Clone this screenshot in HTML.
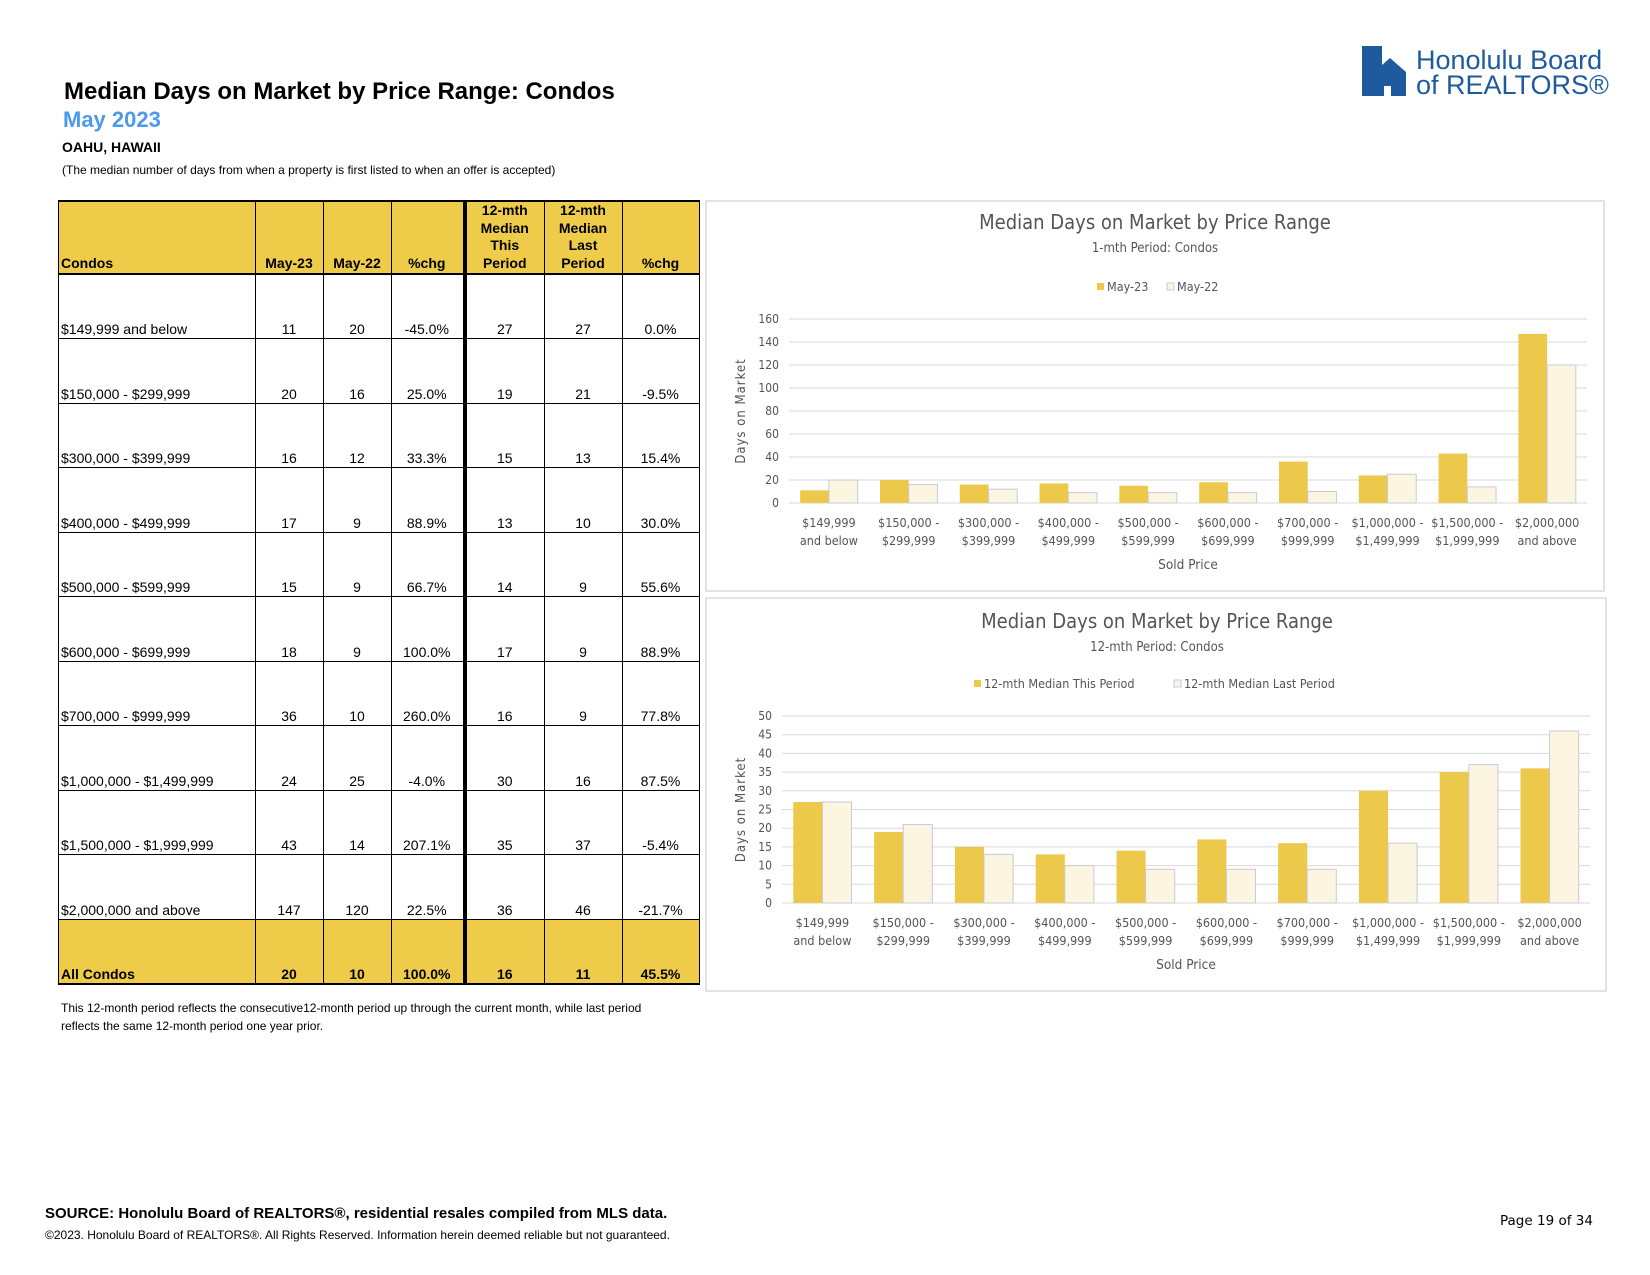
<!DOCTYPE html>
<html><head><meta charset="utf-8">
<style>
body{margin:0;width:1650px;height:1275px;background:#fff;position:relative;font-family:"Liberation Sans",Arial,sans-serif;color:#000;overflow:hidden}
.abs{position:absolute;white-space:nowrap}
table{position:absolute;left:58px;top:200px;border-collapse:collapse;font-size:14px}
td{border:1px solid #000;padding:0 3px 1px 2px;vertical-align:bottom;text-align:center;height:64.5px;box-sizing:border-box}
td:first-child{text-align:left}
tr.hd td{background:#eecc4a;font-weight:bold;height:70px;line-height:17.5px;border-top:2px solid #000;border-bottom:2px solid #000}
tr.tot td{background:#eecc4a;font-weight:bold;height:65px;border-bottom:2px solid #000}
td.tk{border-right:4px solid #000}
.chart{position:absolute;border:2px solid #e3e3e3;background:#fff}
</style></head><body>
<div class="abs" style="left:64px;top:78px;font-size:24px;font-weight:bold">Median Days on Market by Price Range: Condos</div>
<div class="abs" style="left:63px;top:107px;font-size:22px;font-weight:bold;color:#4a9af0">May 2023</div>
<div class="abs" style="left:62px;top:139px;font-size:14px;font-weight:bold">OAHU, HAWAII</div>
<div class="abs" style="left:62px;top:163px;font-size:12px">(The median number of days from when a property is first listed to when an offer is accepted)</div>

<svg class="abs" style="left:1360px;top:44px" width="290" height="56">
<rect x="2" y="2" width="20" height="50" fill="#1e5b9e"/>
<polygon points="14,52 14,28 30,14 46,28 46,52" fill="#1e5b9e"/>
<rect x="24" y="42" width="7" height="10" fill="#fff"/>
<text x="56" y="25" font-family="Liberation Sans" font-size="27" fill="#1e5b9e">Honolulu Board</text>
<text x="56" y="50" font-family="Liberation Sans" font-size="27" fill="#1e5b9e">of REALTORS®</text>
</svg>

<table>
<colgroup><col style="width:197px"><col style="width:68px"><col style="width:68px"><col style="width:73px"><col style="width:80px"><col style="width:78px"><col style="width:77px"></colgroup>
<tr class="hd"><td>Condos</td><td>May-23</td><td>May-22</td><td class="tk">%chg</td><td>12-mth<br>Median<br>This<br>Period</td><td>12-mth<br>Median<br>Last<br>Period</td><td>%chg</td></tr>
<tr><td>$149,999 and below</td><td>11</td><td>20</td><td class="tk">-45.0%</td><td>27</td><td>27</td><td>0.0%</td></tr>
<tr><td>$150,000 - $299,999</td><td>20</td><td>16</td><td class="tk">25.0%</td><td>19</td><td>21</td><td>-9.5%</td></tr>
<tr><td>$300,000 - $399,999</td><td>16</td><td>12</td><td class="tk">33.3%</td><td>15</td><td>13</td><td>15.4%</td></tr>
<tr><td>$400,000 - $499,999</td><td>17</td><td>9</td><td class="tk">88.9%</td><td>13</td><td>10</td><td>30.0%</td></tr>
<tr><td>$500,000 - $599,999</td><td>15</td><td>9</td><td class="tk">66.7%</td><td>14</td><td>9</td><td>55.6%</td></tr>
<tr><td>$600,000 - $699,999</td><td>18</td><td>9</td><td class="tk">100.0%</td><td>17</td><td>9</td><td>88.9%</td></tr>
<tr><td>$700,000 - $999,999</td><td>36</td><td>10</td><td class="tk">260.0%</td><td>16</td><td>9</td><td>77.8%</td></tr>
<tr><td>$1,000,000 - $1,499,999</td><td>24</td><td>25</td><td class="tk">-4.0%</td><td>30</td><td>16</td><td>87.5%</td></tr>
<tr><td>$1,500,000 - $1,999,999</td><td>43</td><td>14</td><td class="tk">207.1%</td><td>35</td><td>37</td><td>-5.4%</td></tr>
<tr><td>$2,000,000 and above</td><td>147</td><td>120</td><td class="tk">22.5%</td><td>36</td><td>46</td><td>-21.7%</td></tr>
<tr class="tot"><td>All Condos</td><td>20</td><td>10</td><td class="tk">100.0%</td><td>16</td><td>11</td><td>45.5%</td></tr>
</table>
<div class="abs" style="left:61px;top:999px;font-size:12px;line-height:18px">This 12-month period reflects the consecutive12-month period up through the current month, while last period<br>reflects the same 12-month period one year prior.</div>

<div class="chart" style="left:705px;top:200px;width:896px;height:388px"><svg id="c1" width="896" height="388"></svg></div>
<div class="chart" style="left:705px;top:597px;width:898px;height:391px"><svg id="c2" width="898" height="391"></svg></div>

<div class="abs" style="left:45px;top:1205px;font-size:15px;font-weight:bold">SOURCE: Honolulu Board of REALTORS®, residential resales compiled from MLS data.</div>
<div class="abs" style="left:45px;top:1228px;font-size:12px">©2023. Honolulu Board of REALTORS®. All Rights Reserved. Information herein deemed reliable but not guaranteed.</div>
<div class="abs" style="left:1500px;top:1213px;font-family:'DejaVu Sans',sans-serif;font-size:13.5px">Page 19 of 34</div>

<script>
const categories = [["$149,999","and below"],["$150,000 -","$299,999"],["$300,000 -","$399,999"],["$400,000 -","$499,999"],["$500,000 -","$599,999"],["$600,000 -","$699,999"],["$700,000 -","$999,999"],["$1,000,000 -","$1,499,999"],["$1,500,000 -","$1,999,999"],["$2,000,000","and above"]];
const may23 = [11,20,16,17,15,18,36,24,43,147];
const may22 = [20,16,12,9,9,9,10,25,14,120];
const ticks1 = [0,20,40,60,80,100,120,140,160];
const median12This = [27,19,15,13,14,17,16,30,35,36];
const median12Last = [27,21,13,10,9,9,9,16,37,46];
const ticks2 = [0,5,10,15,20,25,30,35,40,45,50];
const NS="http://www.w3.org/2000/svg";
function mk(svg,tag,attrs,txt){const e=document.createElementNS(NS,tag);for(const k in attrs)e.setAttribute(k,attrs[k]);if(txt!==undefined)e.textContent=txt;svg.appendChild(e);return e;}
const F="'DejaVu Sans Condensed','Liberation Sans Narrow',sans-serif";
function draw(id,o){
  const svg=document.getElementById(id);
  const max=o.ticks[o.ticks.length-1];
  const y=v=>o.y0-(v/max)*(o.y0-o.yTop);
  const bw=(o.x1-o.x0)/categories.length;
  let t=mk(svg,'text',{x:o.cx,y:o.ty,'text-anchor':'middle','font-size':20,fill:'#555','font-family':F},o.title);
  
  t=mk(svg,'text',{x:o.cx,y:o.ty+23,'text-anchor':'middle','font-size':13,fill:'#555','font-family':F},o.sub);
  
  o.ticks.forEach(v=>{
    const l=mk(svg,'line',{x1:o.x0,x2:o.x1,y1:y(v),y2:y(v),stroke:'#d9d9d9','stroke-width':1});
    
    const tl=mk(svg,'text',{x:o.x0-10,y:y(v)+4,'text-anchor':'end','font-size':12,fill:'#555','font-family':F},v);
    
  });
  categories.forEach((c,i)=>{
    const cx=o.x0+bw*(i+0.5);const w=bw*0.36;
    const a=mk(svg,'rect',{x:cx-w,y:y(o.s1[i]),width:w,height:o.y0-y(o.s1[i]),fill:'#ecc94a'});
    
    const b=mk(svg,'rect',{x:cx,y:y(o.s2[i]),width:w,height:o.y0-y(o.s2[i]),fill:'#fcf6e0',stroke:'#c8c8dc','stroke-width':1});
    
    c.forEach((s,j)=>{const xl=mk(svg,'text',{x:cx,y:o.y0+24+j*18,'text-anchor':'middle','font-size':12.5,fill:'#555','font-family':F},s);
      });
  });
  t=mk(svg,'text',{x:(o.x0+o.x1)/2,y:o.y0+66,'text-anchor':'middle','font-size':13.5,fill:'#555','font-family':F},'Sold Price');
  
  const ym=(o.y0+o.yTop)/2;
  t=mk(svg,'text',{x:38,y:ym,'text-anchor':'middle','font-size':13,fill:'#555','font-family':F,'letter-spacing':1,transform:`rotate(-90 38 ${ym})`},'Days on Market');
  
  let lx=o.lx;
  o.legend.forEach((s,i)=>{
    const r=mk(svg,'rect',{x:lx,y:o.ly-8,width:7,height:7,fill:i?'#fcf6e0':'#ecc94a',stroke:i?'#c8c8dc':'none'});
    
    const lt=mk(svg,'text',{x:lx+10,y:o.ly,'font-size':12.5,fill:'#555','font-family':F},s);
    
    lx+=o.lgap;
  });
}
draw('c1',{x0:82,x1:880,y0:301,yTop:117,ticks:ticks1,s1:may23,s2:may22,cx:448,ty:27,title:'Median Days on Market by Price Range',sub:'1-mth Period: Condos',legend:['May-23','May-22'],lx:390,ly:89,lgap:70});
draw('c2',{x0:75,x1:883,y0:304,yTop:117,ticks:ticks2,s1:median12This,s2:median12Last,cx:450,ty:29,title:'Median Days on Market by Price Range',sub:'12-mth Period: Condos',legend:['12-mth Median This Period','12-mth Median Last Period'],lx:267,ly:89,lgap:200});
</script>
</body></html>
